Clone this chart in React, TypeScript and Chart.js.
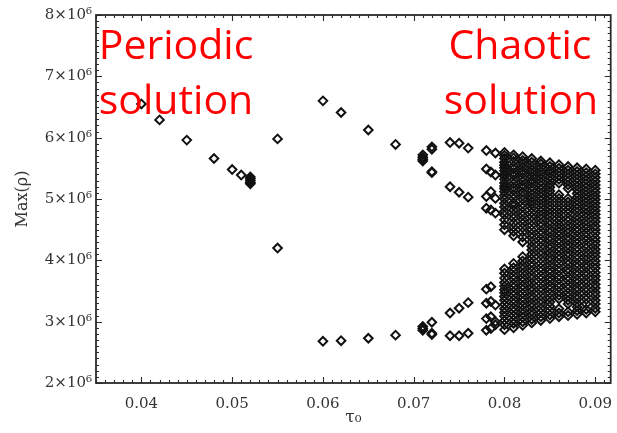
import { useEffect, useRef } from 'react';
import { Chart, registerables } from 'chart.js';

Chart.register(...registerables);

// Axis ticks
const xTickValues = [0.04, 0.05, 0.06, 0.07, 0.08, 0.09];
const yTickValues = [2, 3, 4, 5, 6, 7, 8]; // ×10^6

// Periodic regime: tau0 and Max(rho) (units of 10^6)
const tauPeriodic = [0.040, 0.042, 0.045, 0.048, 0.050, 0.051, 0.052, 0.055, 0.060, 0.062, 0.065, 0.068, 0.071, 0.072, 0.074, 0.075, 0.076, 0.078, 0.0785, 0.079];
const rhoPeriodic = [
  [6.55],
  [6.29],
  [5.96],
  [5.66],
  [5.48],
  [5.39],
  [5.36, 5.33, 5.30, 5.27, 5.25],
  [5.98, 4.20],
  [6.60, 2.68],
  [6.41, 2.69],
  [6.125, 2.73],
  [5.89, 2.78],
  [5.72, 5.68, 5.65, 5.62, 2.92, 2.89, 2.86],
  [5.85, 5.81, 5.445, 5.43, 2.99, 2.81, 2.79],
  [5.92, 5.20, 3.14, 2.77],
  [5.91, 5.11, 3.22, 2.77],
  [5.83, 5.03, 3.31, 2.81],
  [5.79, 5.49, 5.04, 4.85, 3.53, 3.30, 3.05, 2.86],
  [5.44, 5.12, 4.82, 3.57, 3.33, 3.08, 2.89],
  [5.75, 5.39, 5.01, 4.77, 3.27, 3.00, 2.95],
];

// Chaotic regime
const tauChaotic = [0.080, 0.081, 0.082, 0.083, 0.084, 0.085, 0.086, 0.087, 0.088, 0.089, 0.090];
const rho080 = [5.76, 5.71, 5.66, 5.60, 5.55, 5.51, 5.46, 5.41, 5.37, 5.32, 5.26, 5.21, 5.17, 5.12, 5.06, 5.00, 4.93, 4.87, 4.80, 4.74, 4.66, 4.58, 4.50, 3.86, 3.79, 3.71, 3.64, 3.58, 3.52, 3.47, 3.41, 3.35, 3.28, 3.21, 3.15, 3.09, 3.02, 2.95, 2.87];
const rho081 = [5.72, 5.67, 5.61, 5.54, 5.49, 5.43, 5.38, 5.31, 5.25, 5.19, 5.14, 5.07, 5.01, 4.94, 4.89, 4.82, 4.75, 4.69, 4.61, 4.54, 4.47, 4.40, 3.95, 3.88, 3.82, 3.75, 3.69, 3.62, 3.56, 3.49, 3.43, 3.36, 3.30, 3.23, 3.17, 3.10, 3.03, 2.97, 2.90];
const rho082 = [5.69, 5.63, 5.58, 5.52, 5.46, 5.41, 5.35, 5.29, 5.23, 5.18, 5.11, 5.05, 4.99, 4.92, 4.86, 4.79, 4.73, 4.66, 4.60, 4.53, 4.46, 4.38, 4.30, 4.06, 3.99, 3.92, 3.86, 3.79, 3.72, 3.66, 3.59, 3.53, 3.46, 3.39, 3.33, 3.26, 3.19, 3.13, 3.07, 3.00, 2.94];
const rho083 = [5.66, 5.60, 5.54, 5.48, 5.43, 5.37, 5.31, 5.26, 5.20, 5.14, 5.08, 5.02, 4.96, 4.91, 4.85, 4.78, 4.71, 4.64, 4.57, 4.50, 4.43, 4.37, 4.30, 4.23, 4.17, 4.10, 4.03, 3.96, 3.90, 3.83, 3.76, 3.70, 3.63, 3.56, 3.50, 3.43, 3.37, 3.30, 3.24, 3.17, 3.11, 3.04, 2.98];
const rho084 = [5.62, 5.57, 5.51, 5.45, 5.40, 5.34, 5.28, 5.22, 5.16, 5.10, 5.04, 4.98, 4.92, 4.86, 4.80, 4.74, 4.68, 4.61, 4.55, 4.48, 4.42, 4.35, 4.29, 4.22, 4.15, 4.09, 4.02, 3.95, 3.88, 3.82, 3.75, 3.69, 3.62, 3.55, 3.49, 3.42, 3.35, 3.29, 3.22, 3.15, 3.08, 3.02];
const rho085 = [5.59, 5.53, 5.47, 5.42, 5.36, 5.30, 5.24, 5.19, 5.13, 5.07, 5.01, 4.95, 4.89, 4.83, 4.77, 4.71, 4.64, 4.58, 4.51, 4.45, 4.38, 4.32, 4.25, 4.19, 4.12, 4.05, 3.99, 3.92, 3.85, 3.79, 3.72, 3.66, 3.59, 3.53, 3.46, 3.39, 3.32, 3.25, 3.18, 3.11, 3.05];
const rho086 = [5.56, 5.50, 5.44, 5.38, 5.32, 5.26, 5.07, 5.01, 4.95, 4.89, 4.83, 4.77, 4.71, 4.65, 4.59, 4.53, 4.47, 4.41, 4.34, 4.28, 4.21, 4.15, 4.08, 4.02, 3.95, 3.88, 3.82, 3.75, 3.69, 3.62, 3.56, 3.49, 3.43, 3.37, 3.21, 3.14, 3.08];
const rho087 = [5.53, 5.47, 5.41, 5.35, 5.29, 5.23, 5.17, 5.01, 4.95, 4.89, 4.83, 4.77, 4.70, 4.64, 4.57, 4.51, 4.45, 4.38, 4.32, 4.25, 4.19, 4.12, 4.06, 3.99, 3.93, 3.86, 3.80, 3.73, 3.67, 3.60, 3.54, 3.47, 3.41, 3.35, 3.29, 3.16, 3.10];
const rho088 = [5.51, 5.45, 5.39, 5.33, 5.27, 5.21, 5.15, 5.09, 5.03, 4.97, 4.91, 4.85, 4.79, 4.72, 4.66, 4.60, 4.53, 4.47, 4.40, 4.34, 4.28, 4.21, 4.15, 4.08, 4.02, 3.95, 3.89, 3.82, 3.76, 3.69, 3.63, 3.56, 3.50, 3.43, 3.37, 3.30, 3.24, 3.18, 3.12];
const rho089 = [5.49, 5.43, 5.37, 5.31, 5.25, 5.19, 5.13, 5.07, 5.01, 4.95, 4.89, 4.83, 4.77, 4.71, 4.64, 4.58, 4.52, 4.45, 4.39, 4.33, 4.26, 4.20, 4.13, 4.07, 4.01, 3.94, 3.88, 3.81, 3.75, 3.68, 3.62, 3.55, 3.49, 3.42, 3.36, 3.29, 3.20, 3.14];
const rho090 = [5.47, 5.41, 5.35, 5.29, 5.23, 5.17, 5.11, 5.05, 4.99, 4.93, 4.87, 4.81, 4.75, 4.69, 4.63, 4.56, 4.50, 4.44, 4.37, 4.31, 4.25, 4.18, 4.12, 4.06, 3.99, 3.93, 3.87, 3.80, 3.74, 3.68, 3.61, 3.55, 3.48, 3.42, 3.35, 3.29, 3.22, 3.16];
const rhoChaotic = [rho080, rho081, rho082, rho083, rho084, rho085, rho086, rho087, rho088, rho089, rho090];

const annotations = [
  { text: 'Periodic', x: 176, y: 59 },
  { text: 'solution', x: 176, y: 114 },
  { text: 'Chaotic', x: 520, y: 59 },
  { text: 'solution', x: 521, y: 114 },
];

const framePlugin = {
  id: 'idlFrame',
  afterDatasetsDraw(chart: any) {
    const { ctx, chartArea: a, scales } = chart;
    const xs = scales.x;
    const ys = scales.y;
    ctx.save();
    ctx.strokeStyle = '#2a2a2a';
    ctx.lineWidth = 1.1;
    ctx.beginPath();
    for (let i = 35; i <= 91; i++) {
      const px = Math.round(xs.getPixelForValue(i / 1000)) + 0.5;
      const len = i % 10 === 0 ? 6 : 3;
      ctx.moveTo(px, a.bottom);
      ctx.lineTo(px, a.bottom - len);
      ctx.moveTo(px, a.top);
      ctx.lineTo(px, a.top + len);
    }
    for (let i = 20; i <= 80; i++) {
      const py = Math.round(ys.getPixelForValue(i / 10)) + 0.5;
      const len = i % 10 === 0 ? 6 : 3;
      ctx.moveTo(a.left, py);
      ctx.lineTo(a.left + len, py);
      ctx.moveTo(a.right, py);
      ctx.lineTo(a.right - len, py);
    }
    ctx.stroke();
    ctx.lineWidth = 1.8;
    ctx.strokeRect(a.left, a.top, a.right - a.left, a.bottom - a.top);
    ctx.restore();
  },
  afterDraw(chart: any) {
    const { ctx } = chart;
    ctx.save();
    ctx.fillStyle = '#ff0000';
    ctx.font = '41px "Open Sans"';
    ctx.textAlign = 'center';
    ctx.textBaseline = 'alphabetic';
    for (const t of annotations) ctx.fillText(t.text, t.x, t.y);
    ctx.restore();
  },
};

export default function App() {
  const ref = useRef<HTMLCanvasElement | null>(null);

  useEffect(() => {
    if (!ref.current) return;
    const points: { x: number; y: number }[] = [];
    tauPeriodic.forEach((t, i) => rhoPeriodic[i].forEach((r) => points.push({ x: t, y: r })));
    tauChaotic.forEach((t, i) => rhoChaotic[i].forEach((r) => points.push({ x: t, y: r })));

    const chart = new Chart(ref.current, {
      type: 'scatter',
      data: {
        datasets: [
          {
            data: points,
            pointStyle: 'rectRot',
            pointRadius: 4.3,
            pointBorderWidth: 2,
            pointBorderColor: '#111',
            pointBackgroundColor: 'rgba(255,255,255,0)',
            showLine: false,
          },
        ],
      },
      options: {
        responsive: false,
        animation: false,
        devicePixelRatio: 1,
        layout: { padding: { top: 15, right: 5, left: 0, bottom: 0 } },
        plugins: { legend: { display: false }, tooltip: { enabled: false } },
        scales: {
          x: {
            type: 'linear',
            min: 0.035,
            max: 0.0917,
            grid: { display: false, drawTicks: false },
            border: { display: false },
            afterBuildTicks: (s: any) => {
              s.ticks = xTickValues.map((v) => ({ value: v }));
            },
            afterFit: (s: any) => {
              s.height = 50;
              s.paddingLeft = 0;
              s.paddingRight = 0;
            },
            ticks: {
              padding: 12,
              color: '#333',
              font: { family: '"DejaVu Serif"', size: 15 },
              callback: (v: any) => Number(v).toFixed(2),
            },
            title: {
              display: true,
              text: 'τ₀',
              color: '#333',
              font: { family: '"DejaVu Serif"', size: 17 },
              padding: { top: 0, bottom: 5 },
            },
          },
          y: {
            type: 'linear',
            min: 2,
            max: 8,
            grid: { display: false, drawTicks: false },
            border: { display: false },
            afterBuildTicks: (s: any) => {
              s.ticks = yTickValues.map((v) => ({ value: v }));
            },
            afterFit: (s: any) => {
              s.width = 96;
              s.paddingTop = 0;
              s.paddingBottom = 0;
            },
            ticks: {
              padding: 4,
              color: '#333',
              font: { family: '"DejaVu Serif"', size: 15 },
              callback: (v: any) => `${Math.round(Number(v))}×10⁶`,
            },
            title: {
              display: true,
              text: 'Max(ρ)',
              color: '#333',
              font: { family: '"DejaVu Serif"', size: 16 },
              padding: { top: 13, bottom: 0 },
            },
          },
        },
      },
      plugins: [framePlugin],
    });
    return () => chart.destroy();
  }, []);

  return (
    <div style={{ position: 'absolute', left: 0, top: 0, width: 617, height: 433, background: '#fff' }}>
      <canvas ref={ref} width={617} height={433} style={{ display: 'block', width: 617, height: 433 }} />
    </div>
  );
}
